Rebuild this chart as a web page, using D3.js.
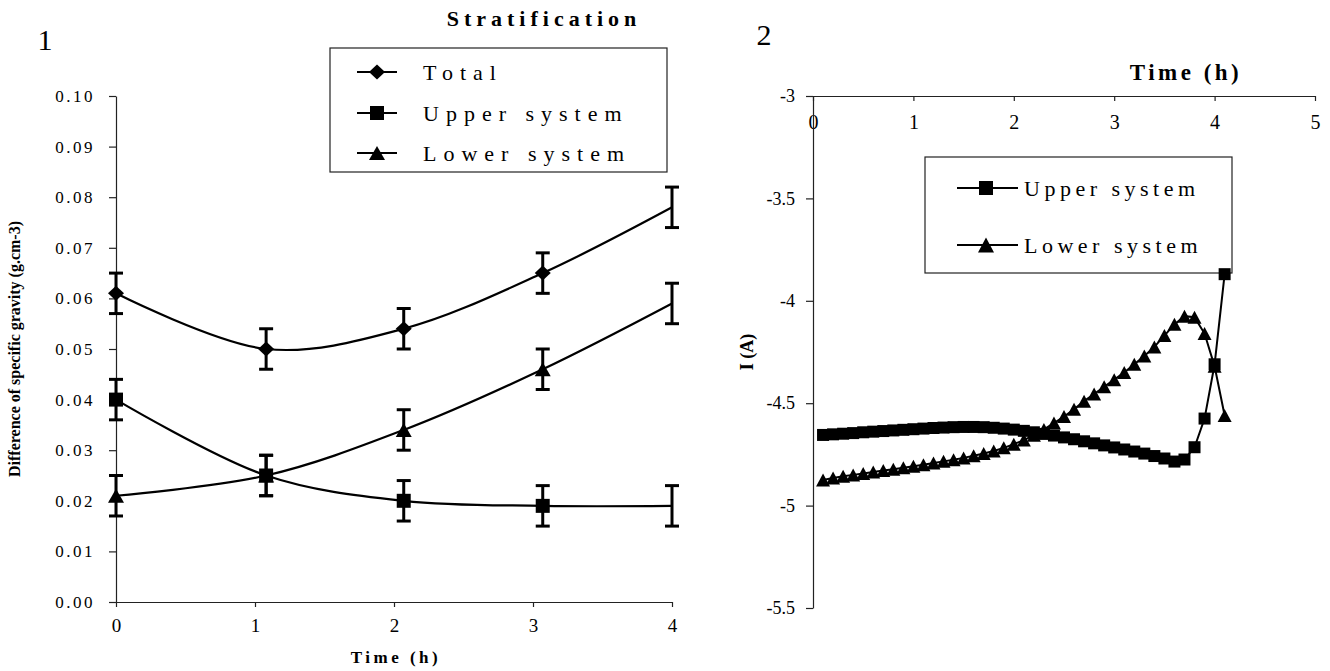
<!DOCTYPE html>
<html>
<head>
<meta charset="utf-8">
<script src="https://cdn.jsdelivr.net/npm/d3@7"></script>
<style>
  body { margin: 0; background: #fff; }
  svg { display: block; }
  text { font-family: "Liberation Serif", "Times New Roman", serif; fill: #000; }
</style>
</head>
<body>
<script>
// 画布尺寸
const width = 1330;
const height = 671;

// 图1：比重差 (左)
const timeL = [0, 1.08, 2.07, 3.07, 4.0];
const totalL = [0.061, 0.050, 0.054, 0.065, 0.078];
const upperL = [0.040, 0.025, 0.020, 0.019, 0.019];
const lowerL = [0.021, 0.025, 0.034, 0.046, 0.059];
const errTotal = [0.004, 0.004, 0.004, 0.004, 0.004];
const errUpper = [0.004, 0.004, 0.004, 0.004, 0.004];
const errLower = [0.004, 0.004, 0.004, 0.004, 0.004];
const yTicksL = [0, 0.01, 0.02, 0.03, 0.04, 0.05, 0.06, 0.07, 0.08, 0.09, 0.10];
const xTicksL = [0, 1, 2, 3, 4];

// 图2：电流 I (右)
const timeR = [0.1, 0.2, 0.3, 0.4, 0.5, 0.6, 0.7, 0.8, 0.9, 1.0,
               1.1, 1.2, 1.3, 1.4, 1.5, 1.6, 1.7, 1.8, 1.9, 2.0,
               2.1, 2.2, 2.3, 2.4, 2.5, 2.6, 2.7, 2.8, 2.9, 3.0,
               3.1, 3.2, 3.3, 3.4, 3.5, 3.6, 3.7, 3.8, 3.9, 4.0, 4.1];
const upperR = [-4.655, -4.652, -4.649, -4.646, -4.642, -4.639, -4.636, -4.633, -4.630, -4.627,
                -4.624, -4.621, -4.619, -4.617, -4.616, -4.616, -4.617, -4.620, -4.624, -4.629,
                -4.635, -4.642, -4.650, -4.658, -4.667, -4.676, -4.686, -4.696, -4.706, -4.716,
                -4.726, -4.736, -4.746, -4.758, -4.770, -4.785, -4.775, -4.715, -4.575, -4.310, -3.870];
const lowerR = [-4.875, -4.865, -4.857, -4.850, -4.843, -4.836, -4.829, -4.822, -4.815, -4.808,
                -4.800, -4.792, -4.784, -4.776, -4.767, -4.757, -4.746, -4.733, -4.718, -4.700,
                -4.680, -4.656, -4.628, -4.597, -4.565, -4.530, -4.490, -4.455, -4.420, -4.385,
                -4.350, -4.310, -4.270, -4.225, -4.170, -4.115, -4.075, -4.080, -4.160, -4.320, -4.560];
const yTicksR = [-3, -3.5, -4, -4.5, -5, -5.5];
const xTicksR = [0, 1, 2, 3, 4, 5];

const svg = d3.select('body').append('svg')
    .attr('width', width)
    .attr('height', height);

// 标记形状
function marker(type, w, h) {
    const a = w / 2, b = h / 2;
    if (type === 'diamond') return `M0,${-b}L${a},0L0,${b}L${-a},0Z`;
    if (type === 'square') return `M${-a},${-b}H${a}V${b}H${-a}Z`;
    return `M0,${-b}L${a},${b}L${-a},${b}Z`;
}

// ---------- 图1 ----------
const xL = d3.scaleLinear().domain([0, 4]).range([116, 672]);
const yL = d3.scaleLinear().domain([0, 0.1]).range([602, 96]);

svg.append('g')
    .attr('transform', 'translate(0,602)')
    .call(d3.axisBottom(xL).tickValues(xTicksL).tickSize(5).tickSizeOuter(0).tickPadding(12).tickFormat(d3.format('d')))
    .call(g => g.selectAll('text').style('font-size', '19px').attr('fill', '#000'));

svg.append('g')
    .attr('transform', 'translate(116,0)')
    .call(d3.axisLeft(yL).tickValues(yTicksL).tickSize(7).tickSizeOuter(0).tickPadding(14).tickFormat(d3.format('.2f')))
    .call(g => g.selectAll('text').style('font-size', '17px').style('letter-spacing', '2.5px').attr('fill', '#000'));

svg.selectAll('.domain, .tick line').attr('stroke', '#222').attr('stroke-width', 1.2);

const seriesL = [
    { name: 'Total', vals: totalL, err: errTotal, shape: 'diamond', w: 16, h: 15 },
    { name: 'Upper system', vals: upperL, err: errUpper, shape: 'square', w: 14, h: 14 },
    { name: 'Lower system', vals: lowerL, err: errLower, shape: 'triangle', w: 16, h: 14 }
];

const lineL = d3.line().curve(d3.curveCatmullRom.alpha(0.5));

seriesL.forEach(s => {
    const pts = s.vals.map((v, i) => [xL(timeL[i]), yL(v)]);
    svg.append('path')
        .attr('d', lineL(pts))
        .attr('fill', 'none')
        .attr('stroke', '#000')
        .attr('stroke-width', 2.2);

    // 误差线
    const eb = svg.append('g');
    s.vals.forEach((v, i) => {
        const x = xL(timeL[i]);
        const y1 = yL(v - s.err[i]), y2 = yL(v + s.err[i]);
        eb.append('line').attr('x1', x).attr('x2', x).attr('y1', y1).attr('y2', y2)
            .attr('stroke', '#000').attr('stroke-width', 3);
        [y1, y2].forEach(y => eb.append('line')
            .attr('x1', x - 7).attr('x2', x + 7).attr('y1', y).attr('y2', y)
            .attr('stroke', '#000').attr('stroke-width', 3));
    });

    // 最后一个点没有标记
    svg.selectAll(null)
        .data(s.vals.slice(0, 4))
        .enter().append('path')
        .attr('d', marker(s.shape, s.w, s.h))
        .attr('transform', (d, i) => `translate(${xL(timeL[i])},${yL(d)})`)
        .attr('fill', '#000');
});

// 图例1
const legL = svg.append('g');
legL.append('rect')
    .attr('x', 330).attr('y', 48).attr('width', 337).attr('height', 124)
    .attr('fill', '#fff').attr('stroke', '#222').attr('stroke-width', 1.2);
[72, 113, 153].forEach((y, i) => {
    const s = seriesL[i];
    legL.append('line').attr('x1', 357).attr('x2', 397).attr('y1', y).attr('y2', y)
        .attr('stroke', '#000').attr('stroke-width', 2.2);
    legL.append('path').attr('d', marker(s.shape, s.w, s.h))
        .attr('transform', `translate(377,${y})`).attr('fill', '#000');
    legL.append('text').attr('x', 423).attr('y', y + 8)
        .style('font-size', '22px').style('letter-spacing', '7px')
        .text(s.name);
});

svg.append('text').attr('x', 544).attr('y', 26)
    .attr('text-anchor', 'middle')
    .style('font-size', '22px').style('font-weight', 'bold').style('letter-spacing', '5px')
    .text('Stratification');

svg.append('text').attr('x', 45).attr('y', 50)
    .attr('text-anchor', 'middle').style('font-size', '30px').text('1');

svg.append('text').attr('x', 396).attr('y', 663)
    .attr('text-anchor', 'middle')
    .style('font-size', '17px').style('font-weight', 'bold').style('letter-spacing', '3.5px')
    .text('Time (h)');

svg.append('text')
    .attr('transform', 'translate(20,349) rotate(-90)')
    .attr('text-anchor', 'middle')
    .style('font-size', '16px').style('font-weight', 'bold')
    .text('Difference of specific gravity (g.cm-3)');

// ---------- 图2 ----------
const xR = d3.scaleLinear().domain([0, 5]).range([813, 1315]);
const yR = d3.scaleLinear().domain([-5.5, -3]).range([608, 96]);

svg.append('g')
    .attr('transform', 'translate(0,96)')
    .call(d3.axisBottom(xR).tickValues(xTicksR).tickSize(5).tickSizeOuter(0).tickPadding(14).tickFormat(d3.format('d')))
    .call(g => g.selectAll('text').style('font-size', '20px').attr('fill', '#000'));

svg.append('g')
    .attr('transform', 'translate(813,0)')
    .call(d3.axisLeft(yR).tickValues(yTicksR).tickSize(7).tickSizeOuter(0).tickPadding(11).tickFormat(d => String(d)))
    .call(g => g.selectAll('text').style('font-size', '18px').attr('fill', '#000'));

svg.selectAll('.domain, .tick line').attr('stroke', '#222').attr('stroke-width', 1.2);

const seriesR = [
    { name: 'Upper system', vals: upperR, shape: 'square', w: 12, h: 12 },
    { name: 'Lower system', vals: lowerR, shape: 'triangle', w: 14, h: 13 }
];

// 图例2 (先画，数据点会压在上面)
const legR = svg.append('g');
legR.append('rect')
    .attr('x', 925).attr('y', 157).attr('width', 307).attr('height', 116)
    .attr('fill', '#fff').attr('stroke', '#222').attr('stroke-width', 1.2);
[188, 245].forEach((y, i) => {
    const s = seriesR[i];
    legR.append('line').attr('x1', 957).attr('x2', 1018).attr('y1', y).attr('y2', y)
        .attr('stroke', '#000').attr('stroke-width', 2.2);
    legR.append('path').attr('d', marker(s.shape, s.w + 2, s.h + 2))
        .attr('transform', `translate(986,${y})`).attr('fill', '#000');
    legR.append('text').attr('x', 1024).attr('y', y + 8)
        .style('font-size', '22px').style('letter-spacing', '4.5px')
        .text(s.name);
});

const lineR = d3.line().x((d, i) => xR(timeR[i])).y(d => yR(d));

seriesR.forEach(s => {
    svg.append('path')
        .attr('d', lineR(s.vals))
        .attr('fill', 'none')
        .attr('stroke', '#000')
        .attr('stroke-width', 2);
    svg.selectAll(null)
        .data(s.vals)
        .enter().append('path')
        .attr('d', marker(s.shape, s.w, s.h))
        .attr('transform', (d, i) => `translate(${xR(timeR[i])},${yR(d)})`)
        .attr('fill', '#000');
});

svg.append('text').attr('x', 1186).attr('y', 80)
    .attr('text-anchor', 'middle')
    .style('font-size', '23px').style('font-weight', 'bold').style('letter-spacing', '3.5px')
    .text('Time (h)');

svg.append('text').attr('x', 764).attr('y', 45)
    .attr('text-anchor', 'middle').style('font-size', '30px').text('2');

svg.append('text')
    .attr('transform', 'translate(753,352) rotate(-90)')
    .attr('text-anchor', 'middle')
    .style('font-size', '18px').style('font-weight', 'bold')
    .text('I (A)');
</script>
</body>
</html>
